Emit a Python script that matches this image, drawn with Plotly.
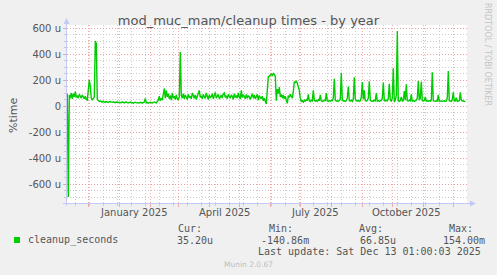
import pandas as pd
import plotly.graph_objects as go

BASE_DATE = "2025-01-01"

# Daily averages of cleanup_seconds in micro-seconds ("u").
# Each segment begins at a day offset relative to 2025-01-01.
seg_a_start = -52
seg_a = [95, -700, 85, 60, 100, 55, 95, 70, 110, 65, 80, 60, 90, 75, 60, 85, 70, 55, 75, 50,
         45, 120, 200, 150, 60, 45, 60, 70, 500, 480, 50]

seg_b_start = -21
seg_b = [40, 35, 38, 33, 30, 36, 32, 28, 34, 30, 27, 33, 35, 30, 28, 32, 30, 26, 31, 29, 27,
         30, 28, 25, 32, 27, 24, 29, 31, 26, 23, 28, 30, 25, 27, 22, 26, 29, 24, 27, 25, 23, 28,
         26, 22, 27, 30,
         58,
         24, 27, 22, 26, 29, 25, 23, 28, 31, 27, 24, 35, 45, 75, 40, 55, 50]

seg_c_start = 44
seg_c = [90, 135, 60, 120, 70, 95, 55, 80, 45, 100, 60, 75, 50, 85, 55, 45, 70, 415]

seg_d_start = 62
seg_d = [80, 60, 95, 55, 85, 70, 50, 90, 65, 75,
         55, 100, 70, 60, 85, 50, 75, 95, 120, 65,
         80, 55, 90, 70, 60, 100, 75, 50, 85, 65,
         70, 95, 55, 80, 105, 60, 75, 90, 55, 70,
         85, 60, 95, 100, 65, 80, 55, 90, 70, 60,
         85, 75, 50, 95, 65, 80, 60, 100, 70, 55,
         120, 65, 85, 75, 55, 90, 60, 80, 70, 50,
         75, 95, 60, 85, 55, 70, 90, 45, 80, 65,
         55, 75, 40, 60, 35, 15]

seg_e_start = 148
seg_e = [120, 225, 230, 240, 245, 235, 250, 240, 230, 40, 130, 95, 145, 70, 90, 60, 85, 55,
         75, 45, 20, 80, 65, 90, 70, 60, 110, 185, 180, 190, 175, 150, 120, 60]

seg_f_start = 182
seg_f = [35, 40, 30, 45, 38, 50, 42, 90, 40, 35,
         45, 40, 120, 45, 38, 42, 35, 50, 40, 85,
         38, 35, 40, 45, 38, 100, 40, 35, 42, 38,
         45, 40, 60, 210, 45, 38, 40, 35, 42, 50,
         255, 45, 38, 40, 36, 42, 60, 150, 40, 38,
         45, 35, 50, 220, 55, 40, 38, 45, 36, 40,
         70, 185, 50, 120, 40, 38, 42, 60, 190, 45,
         38, 40, 36, 45, 40, 100, 38, 42, 36, 40,
         45, 60, 180, 40, 38, 45, 40, 55, 170, 45,
         38, 60, 290, 30, 45, 80, 577, 40, 35, 42,
         70, 38, 40, 115, 45, 167, 40, 38, 45, 40,
         90, 38, 42, 36, 40, 45, 60, 192, 45, 60,
         187, 40, 38, 42, 70, 38, 40, 36, 42, 38,
         45, 259, 40, 38, 36, 40, 38, 85, 36, 38,
         40, 36, 38, 40, 35, 38, 60, 269, 40, 38,
         36, 50, 105, 38, 40, 64, 36, 38, 40, 105,
         45, 38, 40, 36, 35]

segment_starts = [seg_a_start, seg_b_start, seg_c_start, seg_d_start, seg_e_start, seg_f_start]
segments = [seg_a, seg_b, seg_c, seg_d, seg_e, seg_f]

y_tick_values = [-600, -400, -200, 0, 200, 400, 600]
y_tick_labels = ["-600 u", "-400 u", "-200 u", "0", "200 u", "400 u", "600 u"]

quarter_label_dates = ["2025-01-16", "2025-04-16", "2025-07-16", "2025-10-15"]
quarter_labels = ["January 2025", "April 2025", "July 2025", "October 2025"]

legend_name = "cleanup_seconds"
stat_headers = ["Cur:", "Min:", "Avg:", "Max:"]
stat_values = ["35.20u", "-140.86m", "66.85u", "154.00m"]
last_update = "Last update: Sat Dec 13 01:00:03 2025"

days, values = [], []
for s, seg in zip(segment_starts, segments):
    days.extend(range(s, s + len(seg)))
    values.extend(seg)
base = pd.Timestamp(BASE_DATE)
dates = base + pd.to_timedelta(days, unit="D")

# ---- layout geometry (pixels) ----
W, H = 497, 275
L, R, T, B = 67, 467, 25, 203
def px(x):
    return (x - L) / (R - L)
def py(y):
    return (B - y) / (B - T)

x_start = base + pd.to_timedelta(-52.3, unit="D")
x_end = base + pd.to_timedelta(347.7, unit="D")

MAJOR = "rgba(240,150,150,0.8)"
MINOR = "rgba(195,195,195,0.85)"
DASH = "1px,2px"
AXIS = "#C4C8F4"
TXT = "#555555"

fig = go.Figure()
fig.add_trace(go.Scatter(x=dates, y=values, mode="lines",
                         line=dict(color="#00CC00", width=1.4),
                         hoverinfo="skip", showlegend=False))

fig.update_layout(
    width=W, height=H,
    margin=dict(l=L, r=W - R, t=T, b=H - B, autoexpand=False),
    paper_bgcolor="#F0F0F0", plot_bgcolor="white",
    font=dict(family="DejaVu Sans", size=10, color=TXT),
    title=dict(text="mod_muc_mam/cleanup times - by year", x=0.5, xanchor="center",
               y=1 - 20 / H, yanchor="middle",
               font=dict(family="DejaVu Sans", size=13, color=TXT)),
    showlegend=False,
)

fig.update_xaxes(
    type="date", range=[x_start, x_end],
    tickmode="linear", tick0="2024-12-01", dtick="M1",
    showticklabels=False, showgrid=True, gridcolor=MAJOR, griddash=DASH, gridwidth=1,
    ticks="outside", ticklen=3, tickcolor=MAJOR,
    zeroline=False, showline=False, automargin=False,
    minor=dict(tick0="2024-11-18", dtick=14 * 86400000, showgrid=True,
               gridcolor=MINOR, griddash=DASH, ticks="outside", ticklen=2, tickcolor=MINOR),
)

fig.update_yaxes(
    range=[-(B - 106) / 0.13, (106 - T) / 0.13],
    tickmode="array", tickvals=y_tick_values, ticktext=y_tick_labels,
    tickfont=dict(family="DejaVu Sans", size=10, color=TXT),
    showgrid=True, gridcolor=MAJOR, griddash=DASH, gridwidth=1,
    ticks="outside", ticklen=3, tickcolor=MAJOR,
    zeroline=False, showline=False, automargin=False,
    minor=dict(dtick=50, showgrid=True, gridcolor=MINOR, griddash=DASH,
               ticks="outside", ticklen=2, tickcolor=MINOR),
)

shapes = []
# y axis line with arrow
shapes.append(dict(type="line", xref="paper", yref="paper", x0=px(66.5), x1=px(66.5),
                   y0=py(206), y1=py(22), line=dict(color=AXIS, width=1)))
shapes.append(dict(type="path", xref="paper", yref="paper",
                   path=f"M {px(63.5)} {py(24)} L {px(69.5)} {py(24)} L {px(66.5)} {py(18)} Z",
                   fillcolor=AXIS, line=dict(width=0)))
# x axis line with arrow
shapes.append(dict(type="line", xref="paper", yref="paper", x0=px(63), x1=px(472),
                   y0=py(203.5), y1=py(203.5), line=dict(color=AXIS, width=1)))
shapes.append(dict(type="path", xref="paper", yref="paper",
                   path=f"M {px(470)} {py(200.5)} L {px(470)} {py(206.5)} L {px(476)} {py(203.5)} Z",
                   fillcolor=AXIS, line=dict(width=0)))
# legend colour square
shapes.append(dict(type="rect", xref="paper", yref="paper", x0=px(14), x1=px(20),
                   y0=py(243), y1=py(237), fillcolor="#00CC00", line=dict(width=0)))
fig.update_layout(shapes=shapes)

ann = []
for d, t in zip(quarter_label_dates, quarter_labels):
    ann.append(dict(x=d, xref="x", y=py(213), yref="paper", text=t, showarrow=False,
                    xanchor="center", yanchor="middle",
                    font=dict(family="DejaVu Sans", size=10, color=TXT)))
ann.append(dict(x=px(13), y=py(115), xref="paper", yref="paper", text="%time",
                textangle=-90, showarrow=False, xanchor="center", yanchor="middle",
                font=dict(family="DejaVu Sans", size=11, color=TXT)))
ann.append(dict(x=px(487), y=py(54), xref="paper", yref="paper", text="RRDTOOL / TOBI OETIKER",
                textangle=90, showarrow=False, xanchor="center", yanchor="middle",
                font=dict(family="DejaVu Sans", size=8, color="#C4C4C4")))

MONO = "DejaVu Sans Mono"
ann.append(dict(x=px(26), y=py(240), xref="paper", yref="paper", text=legend_name,
                showarrow=False, xanchor="left", yanchor="middle",
                font=dict(family=MONO, size=10, color=TXT)))
header_x = [175.5, 266.5, 356.5, 446.5]
value_x = [175, 259, 358, 441]
for hx, h in zip(header_x, stat_headers):
    ann.append(dict(x=px(hx), y=py(228), xref="paper", yref="paper", text=h, showarrow=False,
                    xanchor="left", yanchor="middle", font=dict(family=MONO, size=10, color=TXT)))
for vx, v in zip(value_x, stat_values):
    ann.append(dict(x=px(vx), y=py(240), xref="paper", yref="paper", text=v, showarrow=False,
                    xanchor="left", yanchor="middle", font=dict(family=MONO, size=10, color=TXT)))
ann.append(dict(x=px(483), y=py(252), xref="paper", yref="paper", text=last_update,
                showarrow=False, xanchor="right", yanchor="middle",
                font=dict(family=MONO, size=10, color=TXT)))
ann.append(dict(x=px(248), y=py(264), xref="paper", yref="paper", text="Munin 2.0.67",
                showarrow=False, xanchor="center", yanchor="middle",
                font=dict(family="DejaVu Sans", size=7.5, color="#BDBDBD")))
fig.update_layout(annotations=ann)

fig.write_html("out.html")
